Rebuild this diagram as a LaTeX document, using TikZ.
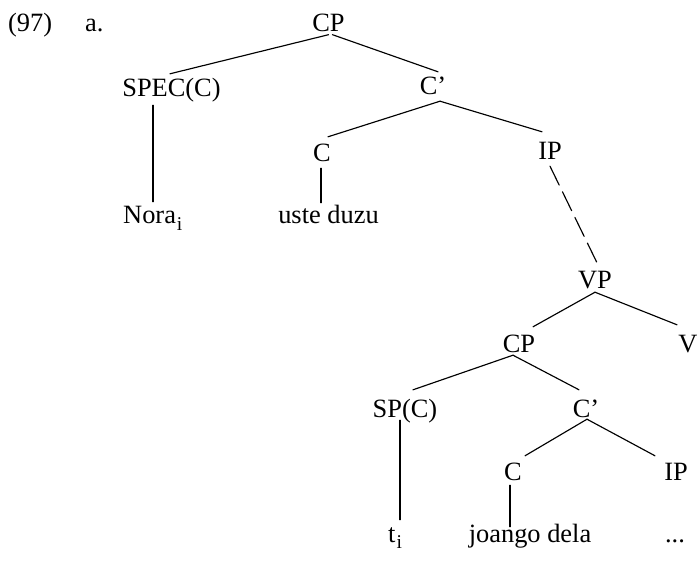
\documentclass[tikz,border=0pt]{standalone}
\usepackage{fontspec}
\setmainfont{Liberation Serif}
\newcommand{\subidx}[1]{\kern1pt\raisebox{-6pt}{\fontsize{19.5pt}{21pt}\selectfont #1}}
\begin{document}
\begin{tikzpicture}[x=1pt,y=-1pt,
  lab/.style={anchor=base,inner sep=0pt,text height=17.5pt,text depth=0pt,
    font=\fontsize{26.4}{30}\selectfont},
  edge/.style={line width=1.15pt,line cap=round},
  dashedge/.style={edge,dash pattern=on 21pt off 7.5pt}]
\useasboundingbox (0,0) rectangle (698,561);
% labels
\node[lab,anchor=base west] (n97) at (8,32) {(97)};
\node[lab,anchor=base west] (na) at (85,32) {a.};
\node[lab] (cp) at (328.5,32) {CP};
\node[lab] (spec) at (171.5,97) {SPEC(C)};
\node[lab] (cbar) at (433,95) {C’};
\node[lab] (c1) at (322,162) {C};
\node[lab] (ip1) at (550,160) {IP};
\node[lab,anchor=base west] (nora) at (123,224) {Nora\subidx{i}};
\node[lab] (uste) at (328.5,224) {uste duzu};
\node[lab] (vp) at (595,288) {VP};
\node[lab] (cp2) at (519,352) {CP};
\node[lab] (v) at (688,352) {V};
\node[lab] (sp) at (405,417) {SP(C)};
\node[lab] (cbar2) at (586,417) {C’};
\node[lab] (c2) at (513,480) {C};
\node[lab] (ip2) at (676,480) {IP};
\node[lab,anchor=base west] (t) at (388,542) {t\subidx{i}};
\node[lab] (joango) at (530,542) {joango dela};
\node[lab] (dots) at (675,542) {...};
% connectors
\draw[edge] ([yshift=-2.5pt]cp.south) -- ([xshift=-1.5pt,yshift=5.5pt]spec.north);
\draw[edge] ([xshift=4pt,yshift=-2.5pt]cp.south) -- ([xshift=5pt,yshift=5.5pt]cbar.north);
\draw[edge] ([xshift=7pt,yshift=-6pt]cbar.south) -- ([xshift=6pt,yshift=7.5pt]c1.north);
\draw[edge] ([xshift=7pt,yshift=-6pt]cbar.south) -- ([xshift=-8pt,yshift=10.5pt]ip1.north);
\draw[dashedge] ([yshift=-6pt]ip1.south) -- ([xshift=2pt,yshift=7.5pt]vp.north);
\draw[edge] ([yshift=-4pt]vp.south) -- ([xshift=14pt,yshift=7.5pt]cp2.north);
\draw[edge] ([yshift=-4pt]vp.south) -- ([xshift=-11pt,yshift=9.5pt]v.north);
\draw[edge] ([xshift=-6pt,yshift=-3pt]cp2.south) -- ([xshift=8pt,yshift=9.5pt]sp.north);
\draw[edge] ([xshift=-6pt,yshift=-3pt]cp2.south) -- ([xshift=-7pt,yshift=9.5pt]cbar2.north);
\draw[edge] ([xshift=1pt,yshift=-2pt]cbar2.south) -- ([xshift=12pt,yshift=6.5pt]c2.north);
\draw[edge] ([xshift=1pt,yshift=-2pt]cbar2.south) -- ([xshift=-21pt,yshift=6.5pt]ip2.north);
\draw[edge] ([xshift=-18.5pt,yshift=-8pt]spec.south) -- ([xshift=30pt,yshift=4.5pt]nora.north west);
\draw[edge] ([xshift=-1pt,yshift=-6pt]c1.south) -- ([xshift=-7.5pt,yshift=3.5pt]uste.north);
\draw[edge] ([xshift=-5pt,yshift=-3pt]sp.south) -- ([xshift=12pt,yshift=4.5pt]t.north west);
\draw[edge] ([xshift=-3pt,yshift=-5pt]c2.south) -- ([xshift=-20pt,yshift=-2.5pt]joango.north);
\end{tikzpicture}
\end{document}
